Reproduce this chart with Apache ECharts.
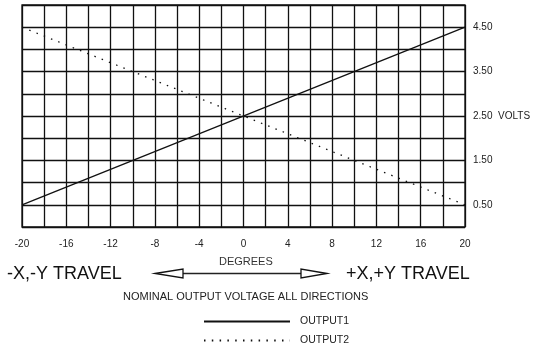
<!DOCTYPE html>
<html>
<head>
<meta charset="utf-8">
<script src="https://cdn.jsdelivr.net/npm/echarts@6/dist/echarts.min.js"></script>
<style>
  html, body { margin: 0; padding: 0; background: #fff; }
  #main { width: 534px; height: 345px; }
</style>
</head>
<body>
<div id="main"></div>
<script>
// degrees across the travel, volts at each end
var degrees = [-20, 20];
var output1 = [0.5, 4.5];
var output2 = [4.5, 0.5];
var xTicks = [-20, -16, -12, -8, -4, 0, 4, 8, 12, 16, 20];
var yTicks = [0.5, 1.5, 2.5, 3.5, 4.5];

var chartDom = document.getElementById('main');
var myChart = echarts.init(chartDom);
var option;

var font = 'Liberation Sans, Arial, sans-serif';

function pairs(xs, ys) {
    return xs.map(function (x, i) { return [x, ys[i]]; });
}

function legendFor(name, top) {
    return {
        left: 198,
        top: top,
        itemWidth: 86,
        itemHeight: 10,
        itemStyle: { opacity: 0 },
        textStyle: { fontSize: 10.5, color: '#222', padding: [0, 0, 0, 5] },
        data: [name]
    };
}

option = {
    animation: false,
    textStyle: { fontFamily: font },
    grid: {
        left: 22,
        right: 69,
        top: 5,
        bottom: 118,
        show: true,
        borderColor: '#111',
        borderWidth: 1.3
    },
    xAxis: {
        type: 'value',
        min: -20,
        max: 20,
        interval: 2,
        axisLine: { show: false },
        axisTick: { show: false },
        splitLine: { lineStyle: { color: '#111', width: 1.3 } },
        axisLabel: {
            margin: 12,
            fontSize: 10,
            color: '#222',
            formatter: function (v) {
                return xTicks.indexOf(v) >= 0 ? String(v) : '';
            }
        }
    },
    yAxis: {
        type: 'value',
        position: 'right',
        min: 0,
        max: 5,
        interval: 0.5,
        axisLine: { show: false },
        axisTick: { show: false },
        splitLine: { lineStyle: { color: '#111', width: 1.3 } },
        axisLabel: {
            margin: 8,
            fontSize: 10,
            color: '#222',
            formatter: function (v) {
                if (yTicks.indexOf(v) < 0) return '';
                return v === 2.5 ? v.toFixed(2) + '  VOLTS' : v.toFixed(2);
            }
        }
    },
    legend: [legendFor('OUTPUT1', 311), legendFor('OUTPUT2', 330)],
    graphic: [
        { type: 'text', left: 219, top: 256, style: { text: 'DEGREES', font: '11px ' + font, fill: '#333' } },
        { type: 'text', left: 7, top: 265, style: { text: '-X,-Y TRAVEL', font: '18px ' + font, fill: '#111' } },
        { type: 'text', left: 346, top: 265, style: { text: '+X,+Y TRAVEL', font: '18px ' + font, fill: '#111' } },
        { type: 'text', left: 123, top: 291, style: { text: 'NOMINAL OUTPUT VOLTAGE ALL DIRECTIONS', font: '11px ' + font, fill: '#222' } },
        { type: 'line', shape: { x1: 183, y1: 273.5, x2: 301, y2: 273.5 }, style: { stroke: '#222', lineWidth: 1.3 } },
        { type: 'polygon', shape: { points: [[155, 273.5], [183, 269], [183, 278]] }, style: { fill: '#fff', stroke: '#111', lineWidth: 1.3 } },
        { type: 'polygon', shape: { points: [[327, 273.5], [301, 269], [301, 278]] }, style: { fill: '#fff', stroke: '#111', lineWidth: 1.3 } }
    ],
    series: [
        {
            name: 'OUTPUT1',
            type: 'line',
            symbol: 'none',
            lineStyle: { color: '#111', width: 1.3 },
            itemStyle: { color: '#111' },
            data: pairs(degrees, output1)
        },
        {
            name: 'OUTPUT2',
            type: 'line',
            symbol: 'none',
            lineStyle: { color: '#111', width: 1.3, type: [1.5, 6.3] },
            itemStyle: { color: '#111' },
            data: pairs(degrees, output2)
        }
    ]
};

option && myChart.setOption(option);
</script>
</body>
</html>
